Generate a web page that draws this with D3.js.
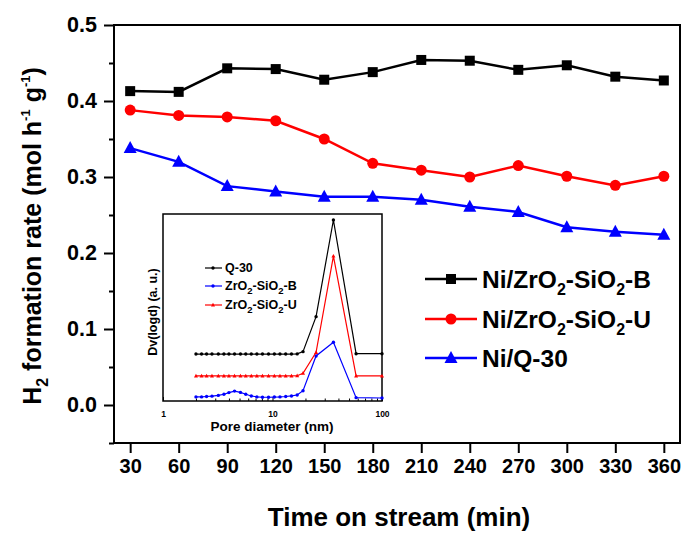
<!DOCTYPE html>
<html><head><meta charset="utf-8">
<script src="https://cdn.jsdelivr.net/npm/d3@7"></script>
<style>body{margin:0;background:#fff}svg{display:block}text{font-family:"Liberation Sans",Arial,sans-serif;font-weight:bold}</style>
</head><body><svg id="c" width="689" height="533"></svg>
<script>
// Main data
const times = [30,60,90,120,150,180,210,240,270,300,330,360];
const niZrSiB = [0.413,0.412,0.443,0.442,0.428,0.438,0.454,0.453,0.441,0.447,0.432,0.427];
const niZrSiU = [0.388,0.381,0.379,0.374,0.350,0.318,0.309,0.300,0.315,0.301,0.289,0.301];
const niQ30   = [0.338,0.320,0.288,0.281,0.274,0.274,0.270,0.261,0.254,0.234,0.228,0.224];
const yTicks = [0.0,0.1,0.2,0.3,0.4,0.5];
const yMinorTicks = [-0.05,0.05,0.15,0.25,0.35,0.45];
// Inset data (pore size distribution, arbitrary units)
const poreD = [2.0,2.25,2.5,2.8,3.2,3.6,4.0,4.5,5.1,5.7,6.4,7.2,8.1,9.2,10.4,11.7,13.2,14.9,16.8,19,25,36,58,100];
const dvQ30 = [0.251,0.251,0.251,0.251,0.251,0.251,0.251,0.251,0.251,0.251,0.251,0.251,0.251,0.251,0.251,0.251,0.251,0.251,0.252,0.264,0.451,0.968,0.253,0.253];
const dvU   = [0.134,0.134,0.134,0.134,0.134,0.134,0.134,0.134,0.134,0.134,0.134,0.134,0.134,0.134,0.134,0.134,0.134,0.134,0.135,0.148,0.260,0.775,0.134,0.134];
const dvB   = [0.022,0.022,0.024,0.026,0.030,0.036,0.045,0.053,0.046,0.036,0.027,0.022,0.020,0.020,0.021,0.022,0.024,0.027,0.032,0.055,0.241,0.314,0.018,0.016];
const insetTicks = [1,10,100];

const svg = d3.select('#c');
const x = d3.scaleLinear().domain([20,370]).range([114,680]);
const y = d3.scaleLinear().domain([-0.05,0.5]).range([443,25]);

// axes
const xAx = svg.append('g').attr('transform','translate(0,443)')
  .call(d3.axisBottom(x).tickValues(times).tickSize(10).tickPadding(6).tickFormat(d3.format('d')));
const yAx = svg.append('g').attr('transform','translate(114,0)')
  .call(d3.axisLeft(y).tickValues(yTicks).tickSize(10).tickPadding(7).tickFormat(d3.format('.1f')));
svg.append('g').attr('transform','translate(114,0)')
  .call(d3.axisLeft(y).tickValues(yMinorTicks).tickSize(5).tickFormat(''));
svg.selectAll('.domain').remove();
svg.selectAll('.tick line').attr('stroke','#000').attr('stroke-width',2);
xAx.selectAll('text').attr('font-size',20).attr('fill','#000');
yAx.selectAll('text').attr('font-size',21.5).attr('fill','#000');

// axis titles
svg.append('text').attr('x',399).attr('y',526).attr('text-anchor','middle').attr('font-size',26).text('Time on stream (min)');
const yt = svg.append('text').attr('transform','translate(41,236) rotate(-90)').attr('text-anchor','middle').attr('font-size',25);
yt.append('tspan').text('H');
yt.append('tspan').attr('font-size',16).attr('dy',7).text('2');
yt.append('tspan').attr('dy',-7).text(' formation rate (mol h');
yt.append('tspan').attr('font-size',13).attr('dy',-11).text('-1');
yt.append('tspan').attr('dy',11).text(' g');
yt.append('tspan').attr('font-size',13).attr('dy',-11).text('-1');
yt.append('tspan').attr('dy',11).text(')');

const series = [
  {vals:niZrSiB,color:'#000000',shape:'square',name:['Ni/ZrO','2','-SiO','2','-B']},
  {vals:niZrSiU,color:'#ff0000',shape:'circle',name:['Ni/ZrO','2','-SiO','2','-U']},
  {vals:niQ30,color:'#0000ff',shape:'triangle',name:['Ni/Q-30']}
];
const line = d3.line().x((d,i)=>x(times[i])).y(d=>y(d));
function marker(g,shape,color,cx,cy){
  if(shape==='square') g.append('rect').attr('x',cx-5).attr('y',cy-5).attr('width',10).attr('height',10).attr('fill',color);
  else if(shape==='circle') g.append('circle').attr('cx',cx).attr('cy',cy).attr('r',5.5).attr('fill',color);
  else g.append('path').attr('d',`M${cx},${cy-7}L${cx+6.5},${cy+5}L${cx-6.5},${cy+5}Z`).attr('fill',color);
}
series.forEach(s=>{
  svg.append('path').datum(s.vals).attr('d',line).attr('fill','none').attr('stroke',s.color).attr('stroke-width',2.5);
  const g = svg.append('g');
  s.vals.forEach((v,i)=>marker(g,s.shape,s.color,x(times[i]),y(v)));
});

// legend
const legY = [279,319,358];
series.forEach((s,i)=>{
  const g = svg.append('g');
  g.append('line').attr('x1',425).attr('x2',477).attr('y1',legY[i]).attr('y2',legY[i]).attr('stroke',s.color).attr('stroke-width',2.5);
  marker(g,s.shape,s.color,451,legY[i]);
  const t = g.append('text').attr('x',482).attr('y',legY[i]+8.5).attr('font-size',24.5);
  s.name.forEach((p,j)=>{
    const sp = t.append('tspan').text(p);
    if(j%2===1) sp.attr('font-size',16).attr('dy',7);
    else if(j>0) sp.attr('dy',-7);
  });
});

// inset
const ix = d3.scaleLog().domain([1,100]).range([163,382]);
const iy = d3.scaleLinear().domain([0,1]).range([401,214]);
svg.append('rect').attr('x',163).attr('y',214).attr('width',219).attr('height',187)
  .attr('fill','#fff').attr('stroke','#000').attr('stroke-width',1.5);
const ixAx = svg.append('g').attr('transform','translate(0,401)')
  .call(d3.axisBottom(ix).tickValues(insetTicks).tickSize(-4).tickPadding(10).tickFormat(d3.format('d')));
const minor = [];
[1,10].forEach(b=>{for(let k=2;k<=9;k++)minor.push(b*k);});
svg.append('g').attr('transform','translate(0,401)').call(d3.axisBottom(ix).tickValues(minor).tickSize(-2.5).tickFormat(''));
svg.selectAll('.domain').remove();
svg.selectAll('.tick line').attr('stroke','#000');
ixAx.selectAll('text').attr('font-size',8.5).attr('fill','#000');
svg.append('text').attr('x',272).attr('y',431).attr('text-anchor','middle').attr('font-size',13.5).text('Pore diameter (nm)');
svg.append('text').attr('transform','translate(157,312) rotate(-90)').attr('text-anchor','middle').attr('font-size',12.5).text('Dv(logd) (a. u.)');

const iseries = [
  {vals:dvQ30,color:'#000000',shape:'dot',name:['Q-30']},
  {vals:dvB,color:'#0000ff',shape:'dot',name:['ZrO','2','-SiO','2','-B']},
  {vals:dvU,color:'#ff0000',shape:'tri',name:['ZrO','2','-SiO','2','-U']}
];
const iline = d3.line().x((d,i)=>ix(poreD[i])).y(d=>iy(d));
function imarker(g,shape,color,cx,cy){
  if(shape==='dot') g.append('circle').attr('cx',cx).attr('cy',cy).attr('r',1.7).attr('fill',color);
  else g.append('path').attr('d',`M${cx},${cy-2.2}L${cx+2},${cy+1.5}L${cx-2},${cy+1.5}Z`).attr('fill',color);
}
iseries.forEach(s=>{
  svg.append('path').datum(s.vals).attr('d',iline).attr('fill','none').attr('stroke',s.color).attr('stroke-width',1.2);
  const g = svg.append('g');
  s.vals.forEach((v,i)=>imarker(g,s.shape,s.color,ix(poreD[i]),iy(v)));
});
const ilegY = [268,286,305];
iseries.forEach((s,i)=>{
  const g = svg.append('g');
  g.append('line').attr('x1',205).attr('x2',222).attr('y1',ilegY[i]).attr('y2',ilegY[i]).attr('stroke',s.color).attr('stroke-width',1.2);
  imarker(g,s.shape,s.color,213,ilegY[i]);
  const t = g.append('text').attr('x',225).attr('y',ilegY[i]+4).attr('font-size',12.5);
  s.name.forEach((p,j)=>{
    const sp = t.append('tspan').text(p);
    if(j%2===1) sp.attr('font-size',9.5).attr('dy',3.5);
    else if(j>0) sp.attr('dy',-3.5);
  });
});

// main frame (drawn last so nothing covers it)
svg.append('rect').attr('x',114).attr('y',25).attr('width',566).attr('height',418)
  .attr('fill','none').attr('stroke','#000').attr('stroke-width',2);
</script></body></html>
